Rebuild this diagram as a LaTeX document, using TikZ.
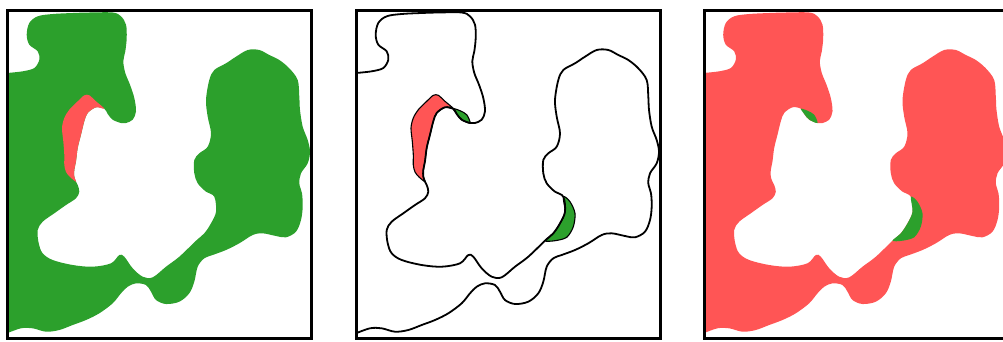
\documentclass[tikz,border=0pt]{standalone}
\definecolor{gr}{RGB}{44,160,44}
\definecolor{rd}{RGB}{255,85,85}
\tikzset{
  mainshape/.style={insert path={plot[smooth,tension=0.55] coordinates {
    (356,73) (371.7,71.3) (383.3,68) (388.3,59.7) (386.7,51.3) (378.3,44.7) (375.7,34.7) (378.3,23)
    (386.7,16.3) (401.7,14) (421.7,13) (438.3,12.5) (461.7,12.5) (470,16.3) (475,24.7) (475.7,38)
    (474.3,51.3) (472.3,61.3) (474.3,73) (479,84.7) (483.3,98) (485,111.3) (481.7,119.7) (475,123)
    (470,123) (461.7,119.7) (456.7,114) (453.3,108.7) (445,107.3) (436.7,113) (433.3,121.3)
    (430,134.7) (426.7,148) (425,161.3) (423.3,170) (423.3,176.7) (425,181.7) (426.7,185)
    (428.3,191.7) (425,198.3) (415,205) (403.3,213.3) (391.7,221.7) (386.7,230) (387.7,243.3)
    (391.7,253.3) (401.7,260) (421.7,265) (441.7,266.7) (460,263.3) (468.3,255) (473.3,256.7)
    (481.7,268.3) (491.7,276.7) (501.7,277.3) (515,266.7) (528.3,256.7) (545,240.7) (553.3,233.3)
    (560,223.3) (565,211.7) (563.3,196.7) (555,191.7) (546.7,183.3) (543.3,173.3) (543.3,160)
    (548.3,153.3) (556.7,146.7) (560,133.3) (556.7,116.7) (555,100) (558.3,80) (563.3,70)
    (575,63.3) (585,56.7) (596.7,50) (608.3,50) (618.3,55) (628.3,60) (638.3,68.3) (646.7,80)
    (648.3,96.7) (649,110) (651.7,126.7) (656.7,140) (659,151.7) (656.7,163.3) (650,173.3)
    (648.3,183.3) (651,193.3) (651.7,206.7) (650,220) (645,231.7) (635,237.3) (625,236)
    (611.7,233.3) (601.7,235) (588.3,243.3) (575,250) (561.7,255) (553.3,258.3) (546.7,266.7)
    (543.3,281.7) (538.3,293.3) (528.3,301.7) (515,304) (505,300) (500,291.7) (495,285)
    (485,283.3) (476.7,286.7) (470,293.3) (461.7,303.3) (448.3,313.3) (435,320) (421.7,325)
    (408.3,330) (395,331.7) (381.7,328.3) (370,328.3) (356,333.3)}}},
  stripshape/.style={insert path={plot[smooth cycle,tension=0.5] coordinates {
    (453.3,108.7) (445,101.3) (438.3,95.3) (433.3,95.3) (426.7,101.3) (418.3,109.7) (413.3,118)
    (411,128) (412.3,141.3) (413.3,154.7) (413.3,165) (415,172) (419,177) (425,181.7)
    (423.3,176.7) (423.3,170) (425,161.3) (426.7,148) (430,134.7) (433.3,121.3) (436.7,113)
    (445,107.3)}}},
  topcres/.style={insert path={plot[smooth cycle,tension=0.5] coordinates {
    (453.3,108.7) (460,110.7) (466.7,114.7) (470,123) (461.7,119.7) (456.7,114)}}},
  rightcres/.style={insert path={plot[smooth cycle,tension=0.5] coordinates {
    (545,240.7) (553.3,233.3) (560,223.3) (565,211.7) (563.3,196.7) (570,201.7) (575,213.3)
    (573.3,226.7) (566.7,237.3) (555,240.7)}}},
  frame/.style={draw=black,line width=3pt},
  outline/.style={draw=black,line width=1.8pt,line join=round},
  thinline/.style={draw=black,line width=1.1pt,line join=round}
}
\begin{document}
\begin{tikzpicture}[x=1pt,y=-1pt]
\useasboundingbox (0,0) rectangle (1003,341);
\clip (0,0) rectangle (1003,341);
% panel 1
\begin{scope}[shift={(-349,0)}]
  \fill[gr,mainshape] -- (356,73) -- cycle;
  \fill[rd,stripshape];
\end{scope}
\draw[frame] (7.5,10.5) rectangle (311.5,338.5);
% panel 2
\fill[rd,stripshape];
\fill[gr,topcres];
\fill[gr,rightcres];
\path[thinline,stripshape];
\path[thinline,topcres];
\path[thinline,rightcres];
\path[outline,mainshape];
\draw[frame] (356.5,10.5) rectangle (660.5,338.5);
% panel 3
\begin{scope}[shift={(347.5,0)}]
  \fill[rd,mainshape] -- (356,73) -- cycle;
  \fill[gr,topcres];
  \fill[gr,rightcres];
\end{scope}
\draw[frame] (704,10.5) rectangle (1008,338.5);
\end{tikzpicture}
\end{document}
